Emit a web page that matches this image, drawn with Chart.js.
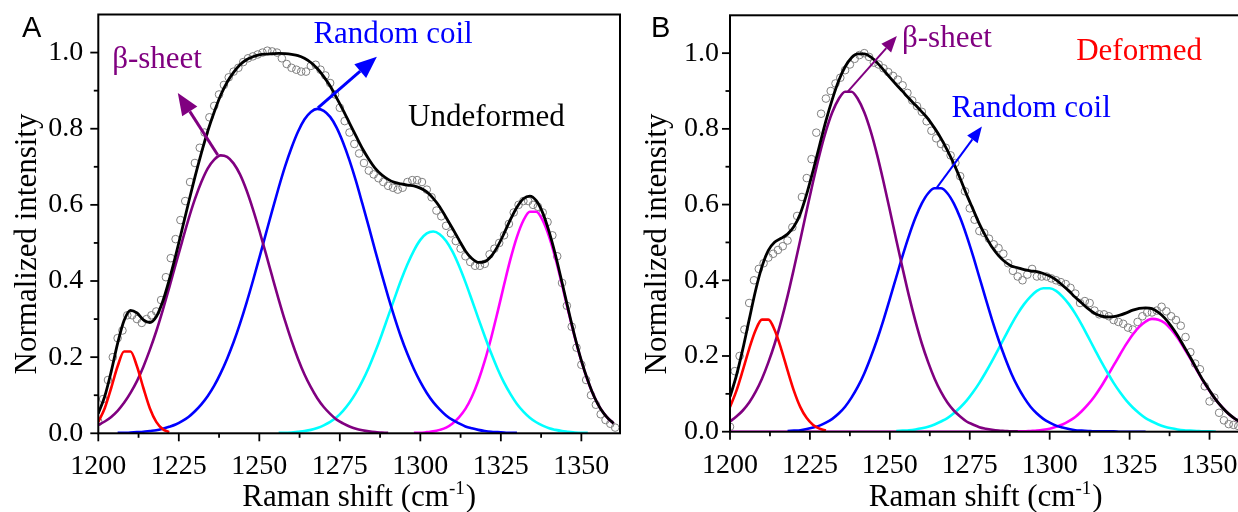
<!DOCTYPE html>
<html><head><meta charset="utf-8">
<script src="https://cdn.jsdelivr.net/npm/chart.js@4/dist/chart.umd.min.js"></script>
<style>
html,body{margin:0;padding:0;background:#fff;overflow:hidden;width:1238px;height:512px;}
#wrap{position:relative;width:1238px;height:512px;overflow:hidden;background:#fff;}
canvas{position:absolute;top:0;}
#cA{left:0;width:640px;height:512px;}
#cB{left:625px;width:625px;height:512px;}
</style></head>
<body><div id="wrap"><canvas id="cA" width="640" height="512"></canvas><canvas id="cB" width="625" height="512"></canvas></div>
<script>
// ---------- sampling steps (cm^-1) ----------
const STEP = 2;      // fitted curves
const CSTEP = 1.5;   // measured points

// ---------- Panel A (Undeformed) ----------
const redAFrom = 1200;
const redA = [0.030,0.066,0.119,0.176,0.215,0.215,0.176,0.119,0.066,0.030,0.011,0.003];
const purpleAFrom = 1200;
const purpleA = [0.022,0.031,0.043,0.059,0.080,0.106,0.137,0.175,0.219,0.268,0.323,0.382,0.443,0.503,0.562,0.615,0.660,0.696,0.719,0.730,0.726,0.709,0.680,0.639,0.589,0.533,0.473,0.412,0.352,0.295,0.243,0.196,0.155,0.121,0.092,0.069,0.051,0.036,0.026,0.018,0.012,0.008,0.005,0.003,0.002,0.001];
const blueAFrom = 1206;
const blueA = [0.001,0.001,0.002,0.003,0.004,0.006,0.008,0.012,0.017,0.023,0.032,0.043,0.058,0.076,0.098,0.125,0.158,0.196,0.239,0.288,0.342,0.400,0.461,0.523,0.585,0.645,0.701,0.750,0.792,0.824,0.844,0.852,0.847,0.831,0.803,0.764,0.717,0.663,0.603,0.542,0.479,0.418,0.359,0.304,0.253,0.208,0.169,0.135,0.106,0.082,0.063,0.047,0.035,0.026,0.018,0.013,0.009,0.006,0.004,0.003,0.002,0.001,0.001];
const cyanAFrom = 1256;
const cyanA = [0.001,0.001,0.002,0.004,0.006,0.009,0.014,0.021,0.030,0.042,0.059,0.080,0.106,0.137,0.173,0.214,0.259,0.307,0.355,0.402,0.444,0.480,0.508,0.525,0.530,0.523,0.505,0.477,0.440,0.397,0.350,0.302,0.255,0.210,0.169,0.133,0.103,0.077,0.057,0.041,0.029,0.020,0.013,0.009,0.006,0.004,0.002,0.001,0.001];
const magentaAFrom = 1298;
const magentaA = [0.001,0.001,0.003,0.005,0.009,0.015,0.026,0.042,0.064,0.096,0.138,0.190,0.251,0.319,0.390,0.458,0.516,0.559,0.582,0.582,0.559,0.516,0.458,0.390,0.319,0.251,0.190,0.138,0.096,0.064,0.042,0.026];
const fitAFrom = 1200;
const fitA = [0.052,0.097,0.162,0.236,0.296,0.323,0.316,0.298,0.291,0.306,
  0.346,0.402,0.466,0.535,0.605,0.673,0.736,0.794,0.844,0.888,
  0.922,0.948,0.968,0.981,0.989,0.994,0.996,0.997,0.998,0.997,
  0.995,0.992,0.985,0.974,0.958,0.937,0.912,0.881,0.849,0.815,
  0.781,0.748,0.720,0.696,0.679,0.667,0.659,0.655,0.652,0.650,
  0.644,0.634,0.617,0.595,0.567,0.538,0.508,0.479,0.459,0.449,
  0.451,0.465,0.491,0.525,0.562,0.594,0.616,0.623,0.611,0.579,
  0.529,0.467,0.396,0.323,0.253,0.191,0.139,0.096,0.064,0.042,0.026];
const measAFrom = 1200;
const measA = [0.03,0.09,0.14,0.20,0.25,0.27,0.31,0.31,0.30,0.29,
  0.30,0.31,0.32,0.35,0.41,0.46,0.51,0.56,0.61,0.66,
  0.71,0.75,0.79,0.83,0.86,0.89,0.915,0.935,0.95,0.96,
  0.975,0.985,0.99,0.995,1.0,1.005,1.003,1.0,0.985,0.97,
  0.96,0.955,0.95,0.95,0.965,0.968,0.955,0.94,0.92,0.89,
  0.855,0.82,0.79,0.76,0.735,0.71,0.69,0.68,0.67,0.66,
  0.65,0.645,0.64,0.645,0.66,0.665,0.665,0.66,0.64,0.62,
  0.585,0.57,0.545,0.525,0.505,0.485,0.465,0.45,0.44,0.44,
  0.445,0.47,0.485,0.50,0.52,0.55,0.58,0.60,0.61,0.61,
  0.60,0.595,0.58,0.555,0.52,0.465,0.395,0.335,0.28,0.225,
  0.18,0.14,0.10,0.075,0.05,0.035,0.025,0.015];

// ---------- Panel B (Deformed) ----------
const redBFrom = 1200;
const redB = [0.065,0.108,0.162,0.219,0.268,0.296,0.296,0.268,0.219,0.162,0.108,0.065,0.036,0.018,0.008,0.003];
const purpleBFrom = 1200;
const purpleB = [0.027,0.040,0.056,0.077,0.105,0.140,0.183,0.233,0.292,0.358,0.431,0.507,0.585,0.661,0.732,0.794,0.844,0.879,0.898,0.898,0.879,0.844,0.794,0.732,0.661,0.585,0.507,0.431,0.358,0.292,0.233,0.183,0.140,0.105,0.077,0.056,0.040,0.027,0.019,0.012,0.008,0.005,0.003,0.002,0.001,0.001];
const blueBFrom = 1218;
const blueB = [0.002,0.003,0.004,0.007,0.011,0.016,0.024,0.034,0.048,0.066,0.090,0.119,0.154,0.196,0.243,0.295,0.351,0.408,0.465,0.518,0.565,0.603,0.630,0.643,0.643,0.630,0.603,0.565,0.518,0.465,0.408,0.351,0.295,0.243,0.196,0.154,0.119,0.090,0.066,0.048,0.034,0.024,0.016,0.011,0.007,0.004,0.003,0.002,0.001,0.001,0.001,0.001,0,0,0,0,0];
const cyanBFrom = 1252;
const cyanB = [0.002,0.003,0.004,0.006,0.009,0.013,0.019,0.027,0.036,0.049,0.064,0.082,0.104,0.129,0.157,0.187,0.219,0.251,0.283,0.312,0.337,0.357,0.372,0.379,0.379,0.372,0.357,0.337,0.312,0.283,0.251,0.219,0.187,0.157,0.129,0.104,0.082,0.064,0.049,0.036,0.027,0.019,0.013,0.009,0.006,0.004,0.003,0.002,0.001,0.001,0];
const magentaBFrom = 1200;
const magentaB = [0,0,0,0,0,0,0,0,0,0,0,0,0,0,0,0,0,0,0,0,0,0,0,0,0,0,0,0,0,0,0,0,0,0,0,0,0,0,0,0,0,0,0,0,0,
  0.001,0.001,0.002,0.003,0.005,0.008,0.013,0.019,0.028,0.039,0.054,0.072,0.093,0.118,0.146,0.175,0.204,0.232,0.257,0.277,0.291,0.298,0.296,0.287,0.270,0.248,0.221,0.193,0.163,0.134,0.108,0.084,0.064,0.047,0.034,0.024];
const fitBFrom = 1200;
const fitB = [0.092,0.148,0.218,0.296,0.373,0.436,0.479,0.501,0.511,0.522,
  0.542,0.576,0.628,0.690,0.756,0.821,0.878,0.927,0.964,0.988,
  0.998,0.998,0.990,0.975,0.956,0.936,0.917,0.899,0.880,0.863,
  0.845,0.826,0.802,0.775,0.743,0.708,0.669,0.627,0.588,0.549,
  0.516,0.487,0.465,0.449,0.438,0.433,0.428,0.425,0.423,0.418,
  0.411,0.401,0.387,0.372,0.355,0.340,0.325,0.313,0.306,0.303,
  0.304,0.308,0.314,0.321,0.326,0.327,0.325,0.315,0.300,0.279,
  0.254,0.225,0.196,0.165,0.135,0.109,0.084,0.064,0.047,0.034,0.024];
const measBFrom = 1200;
const measB = [0.013,0.16,0.20,0.27,0.34,0.40,0.43,0.445,0.46,0.47,
  0.48,0.49,0.505,0.54,0.57,0.62,0.67,0.72,0.79,0.84,
  0.88,0.90,0.92,0.935,0.955,0.97,0.985,0.995,1.0,0.99,
  0.975,0.97,0.96,0.95,0.94,0.93,0.915,0.895,0.875,0.86,
  0.845,0.82,0.795,0.775,0.76,0.75,0.73,0.71,0.675,0.635,
  0.59,0.56,0.53,0.525,0.51,0.495,0.485,0.47,0.445,0.425,
  0.41,0.40,0.415,0.43,0.41,0.41,0.41,0.405,0.40,0.395,
  0.39,0.38,0.365,0.34,0.345,0.34,0.32,0.31,0.31,0.305,
  0.295,0.29,0.285,0.275,0.27,0.29,0.305,0.315,0.315,0.32,
  0.33,0.318,0.305,0.295,0.28,0.25,0.21,0.18,0.165,0.12,
  0.08,0.09,0.05,0.03,0.02,0.018,0.015];

// ---------- axes ----------
const xMajorTicks = [1200,1225,1250,1275,1300,1325,1350];
const xMinorTicks = [1212.5,1237.5,1262.5,1287.5,1312.5,1337.5];
const yMajorTicks = [0,0.2,0.4,0.6,0.8,1.0];
const yMinorTicks = [0.1,0.3,0.5,0.7,0.9];

const C = {red:'#ff0000', purple:'#800080', blue:'#0000ff', cyan:'#00ffff', magenta:'#ff00ff', black:'#000000', gray:'#808080'};
const SERIF = '"Liberation Serif", "Times New Roman", serif';

function pts(from, step, arr){ return arr.map((v,i)=>({x: from + step*i, y: v})); }
function curve(from, arr, color, order, w){
  return {data: pts(from, STEP, arr), showLine:true, borderColor:color, borderWidth:w||2.6,
    pointRadius:0, pointHoverRadius:0, fill:false, cubicInterpolationMode:'monotone', order:order};
}

function drawArrow(ctx, x0, y0, x1, y1, color, w, L, W){
  const ang = Math.atan2(y1-y0, x1-x0);
  const bx = x1 - L*Math.cos(ang), by = y1 - L*Math.sin(ang);
  ctx.strokeStyle = color; ctx.fillStyle = color; ctx.lineWidth = w; ctx.lineCap='butt';
  ctx.beginPath(); ctx.moveTo(x0,y0); ctx.lineTo(bx,by); ctx.stroke();
  const nx = -Math.sin(ang), ny = Math.cos(ang);
  ctx.beginPath(); ctx.moveTo(x1,y1); ctx.lineTo(bx+nx*W, by+ny*W); ctx.lineTo(bx-nx*W, by-ny*W); ctx.closePath(); ctx.fill();
}

function makePanel(id, o){
  const deco = {
    id:'deco'+id,
    afterDraw(chart){
      const {ctx, chartArea:ca, scales:{x, y}} = chart;
      ctx.save();
      // frame
      ctx.strokeStyle='#000'; ctx.lineWidth=2;
      ctx.strokeRect(ca.left, ca.top, ca.right-ca.left, ca.bottom-ca.top);
      // ticks (outward)
      ctx.lineWidth=1.8;
      const tick = (vals, len, isX) => vals.forEach(v=>{
        ctx.beginPath();
        if(isX){ const p=x.getPixelForValue(v); ctx.moveTo(p, ca.bottom); ctx.lineTo(p, ca.bottom+len); }
        else { const p=y.getPixelForValue(v); ctx.moveTo(ca.left, p); ctx.lineTo(ca.left-len, p); }
        ctx.stroke();
      });
      tick(xMajorTicks, 8, true); tick(xMinorTicks, 4.5, true);
      tick(yMajorTicks, 8, false); tick(yMinorTicks, 4.5, false);
      // panel letter
      ctx.fillStyle='#000'; ctx.font='29px "Liberation Sans", Arial, sans-serif';
      ctx.textAlign='left'; ctx.textBaseline='alphabetic';
      ctx.fillText(o.letter, o.letterX, o.letterY);
      // x title with superscript
      ctx.font='31px '+SERIF;
      const t1='Raman shift (cm', t3=')';
      const w1=ctx.measureText(t1).width, w3=ctx.measureText(t3).width;
      ctx.font='19px '+SERIF; const t2='-1'; const w2=ctx.measureText(t2).width;
      const total=w1+w2+w3+1;
      let sx=(ca.left+ca.right)/2 - total/2;
      ctx.font='31px '+SERIF; ctx.fillText(t1, sx, o.xTitleY);
      ctx.font='19px '+SERIF; ctx.fillText(t2, sx+w1, o.xTitleY-12);
      ctx.font='31px '+SERIF; ctx.fillText(t3, sx+w1+w2+1, o.xTitleY);
      // y title
      ctx.save(); ctx.translate(o.yTitleX, o.yTitleCY); ctx.rotate(-Math.PI/2);
      ctx.textAlign='center'; ctx.fillText('Normalized intensity', 0, 0); ctx.restore();
      // arrows
      o.arrows.forEach(a=>{
        drawArrow(ctx, x.getPixelForValue(a.from[0]), y.getPixelForValue(a.from[1]),
          x.getPixelForValue(a.to[0]), y.getPixelForValue(a.to[1]), a.color, a.w, a.L, a.W);
      });
      // labels
      ctx.font='31px '+SERIF; ctx.textAlign='left'; ctx.textBaseline='alphabetic';
      o.labels.forEach(l=>{ ctx.fillStyle=l.color; ctx.fillText(l.text, x.getPixelForValue(l.at[0]), y.getPixelForValue(l.at[1])); });
      ctx.restore();
    }
  };
  const datasets = [
    {data: pts(o.measFrom, CSTEP, o.meas), showLine:false, pointRadius:3.8, pointBorderWidth:1,
     pointBorderColor:C.gray, pointBackgroundColor:'rgba(0,0,0,0)', pointHoverRadius:0, order:10},
    ...o.comps.map((c,i)=>curve(c[0], c[1], c[2], 2+i)),
    curve(o.fitFrom, o.fit, C.black, 0, 2.8)
  ];
  return new Chart(document.getElementById(id), {
    type:'scatter',
    data:{datasets},
    options:{
      responsive:false, animation:false, devicePixelRatio:1,
      layout:{padding:{left:0, top:o.top, right:o.right, bottom:0}},
      plugins:{legend:{display:false}, tooltip:{enabled:false}},
      events:[],
      scales:{
        x:{type:'linear', min:1200, max:o.xMax,
          afterFit:(s)=>{s.height=o.xH; s.paddingLeft=0; s.paddingRight=0;},
          grid:{display:false, drawTicks:false}, border:{display:false},
          ticks:{stepSize:25, includeBounds:false, autoSkip:false, maxRotation:0, padding:o.xPad,
            color:'#000', font:{family:SERIF, size:28}, callback:(v)=>String(v)}},
        y:{type:'linear', min:0, max:1.1,
          afterFit:(s)=>{s.width=o.yW; s.paddingTop=0; s.paddingBottom=0;},
          grid:{display:false, drawTicks:false}, border:{display:false},
          ticks:{stepSize:0.2, includeBounds:false, autoSkip:false, padding:o.yPad,
            color:'#000', font:{family:SERIF, size:28}, callback:(v)=>Number(v).toFixed(1)}}
      }
    },
    plugins:[deco]
  });
}

makePanel('cA', {
  letter:'A', letterX:22, letterY:37,
  xMax:1362, top:14.5, right:20, yW:98.3, xH:78.7, xPad:17, yPad:15,
  xTitleY:506, yTitleX:36, yTitleCY:244,
  measFrom:measAFrom, meas:measA, fitFrom:fitAFrom, fit:fitA,
  comps:[[redAFrom,redA,C.red],[purpleAFrom,purpleA,C.purple],[blueAFrom,blueA,C.blue],[cyanAFrom,cyanA,C.cyan],[magentaAFrom,magentaA,C.magenta]],
  arrows:[
    {from:[1237.1,0.731], to:[1224.7,0.894], color:C.purple, w:3, L:22, W:9},
    {from:[1268.2,0.855], to:[1286.5,0.989], color:C.blue, w:3, L:22, W:9}
  ],
  labels:[
    {text:'\u03b2-sheet', at:[1204.3,0.960], color:C.purple},
    {text:'Random coil', at:[1266.8,1.026], color:C.blue},
    {text:'Undeformed', at:[1296.2,0.807], color:'#000'}
  ]
});

makePanel('cB', {
  letter:'B', letterX:26, letterY:37,
  xMax:1360, top:15.3, right:8.5, yW:105, xH:80.3, xPad:17, yPad:11,
  xTitleY:506, yTitleX:41, yTitleCY:244,
  measFrom:measBFrom, meas:measB, fitFrom:fitBFrom, fit:fitB,
  comps:[[redBFrom,redB,C.red],[purpleBFrom,purpleB,C.purple],[blueBFrom,blueB,C.blue],[cyanBFrom,cyanB,C.cyan],[magentaBFrom,magentaB,C.magenta]],
  arrows:[
    {from:[1236.9,0.899], to:[1252.2,1.045], color:C.purple, w:2, L:16, W:6.5},
    {from:[1264.7,0.645], to:[1278.8,0.806], color:C.blue, w:2, L:16, W:6.5}
  ],
  labels:[
    {text:'\u03b2-sheet', at:[1253.8,1.015], color:C.purple},
    {text:'Random coil', at:[1269.3,0.832], color:C.blue},
    {text:'Deformed', at:[1308.3,0.982], color:C.red}
  ]
});
</script>
</body></html>
